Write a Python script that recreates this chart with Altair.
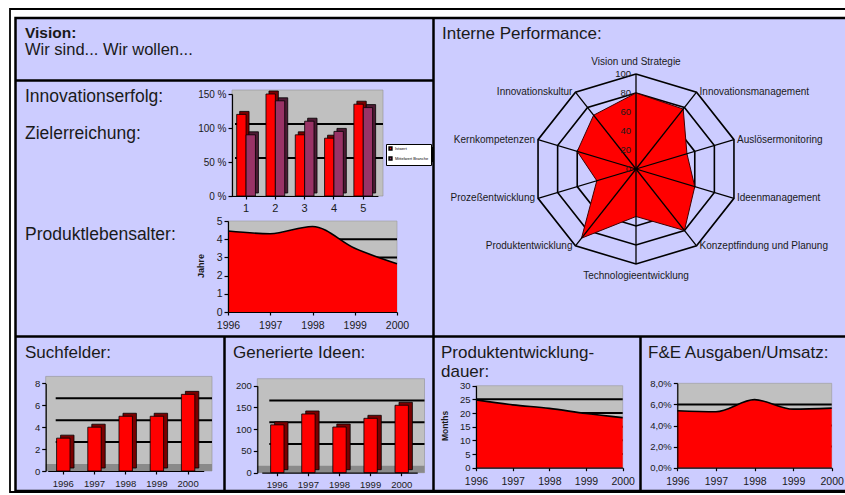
import altair as alt
import pandas as pd

W, H = 845, 495
FONT = "Liberation Sans"
LAV = "#ccccff"
GREY = "#c0c0c0"
FLOOR = "#8a8a8a"
RED = "#ff0000"
DARKRED = "#7a0000"
PURPLE = "#993366"
DARKPURPLE = "#4d1a33"
INK = "#1a1a1a"

# ---------------- data ----------------
ZIEL_GROUPS = ["1", "2", "3", "4", "5"]
ZIEL_SERIES = ["Istwert", "Mittelwert Branche"]
ZIEL_IST = [120, 150, 90, 85, 135]
ZIEL_MITTEL = [90, 140, 110, 95, 130]
ZIEL_TICKS = [0, 50, 100, 150]

YEARS = [1996, 1997, 1998, 1999, 2000]
YEAR_LABELS = ["1996", "1997", "1998", "1999", "2000"]
LEBENSALTER = [4.45, 4.3, 4.7, 3.5, 2.65]
LEBENSALTER_TICKS = [0, 1, 2, 3, 4, 5]

RADAR_CATS = ["Vision und Strategie", "Innovationsmanagement", "Auslösermonitoring",
              "Ideenmanagement", "Konzeptfindung und Planung", "Technologieentwicklung",
              "Produktentwicklung", "Prozeßentwicklung", "Kernkompetenzen", "Innovationskultur"]
RADAR_VALS = [80, 78, 52, 60, 80, 50, 90, 40, 60, 70]
RADAR_TICKS = [0, 20, 40, 60, 80, 100]

SUCHFELDER = [3, 4, 5, 5, 7]
SUCH_TICKS = [0, 2, 4, 6, 8]
IDEEN = [110, 135, 105, 125, 155]
IDEEN_TICKS = [0, 50, 100, 150, 200]
DAUER = [24.8, 23.0, 21.7, 19.8, 18.3]
DAUER_TICKS = [0, 5, 10, 15, 20, 25, 30]
FE_QUOTE = [5.4, 5.3, 6.45, 5.55, 5.65]
FE_TICKS = [0, 2, 4, 6, 8]

DUMMY = pd.DataFrame({"d": [0]})


def qscale(domain, rng):
    return alt.Scale(domain=list(domain), range=list(rng), nice=False, zero=False)


def txt(s, x, y, size=17, weight="normal", align="left", angle=0, base="alphabetic", color=INK):
    return alt.Chart(DUMMY).mark_text(align=align, baseline=base, fontSize=size, fontWeight=weight,
                                      angle=angle, font=FONT, color=color).encode(
        x=alt.value(x), y=alt.value(y), text=alt.value(s))


def box(x, y, x2, y2, fill=None, stroke=None, sw=0):
    kw = {}
    if fill:
        kw["fill"] = fill
    else:
        kw["filled"] = False
    if stroke:
        kw.update(stroke=stroke, strokeWidth=sw)
    return alt.Chart(DUMMY).mark_rect(**kw).encode(
        x=alt.value(x), x2=alt.value(x2), y=alt.value(y), y2=alt.value(y2))


def seg(x, y, x2, y2, w=2.5):
    return alt.Chart(DUMMY).mark_rule(color="black", strokeWidth=w).encode(
        x=alt.value(x), x2=alt.value(x2), y=alt.value(y), y2=alt.value(y2))


def left_axis(x, values, expr=None, size=10):
    kw = dict(orient="left", offset=-x, values=values, title=None, labelFontSize=size,
              tickSize=4, labelPadding=2, labelOverlap=False, labelFlush=False, zindex=2)
    if expr:
        kw["labelExpr"] = expr
    return alt.Axis(**kw)


def bottom_axis(y, size=10, values=None, fmt=None, pad=3):
    kw = dict(orient="bottom", offset=y - H, title=None, labelFontSize=size, tickSize=3,
              labelPadding=pad, labelOverlap=False, labelFlush=False, labelAngle=0, zindex=2)
    if values is not None:
        kw["values"] = values
    if fmt:
        kw["format"] = fmt
    return alt.Axis(**kw)


# ---------------- area panels ----------------
def area_panel(values, xr, yr, ydom, ticks, grid_vals, expr=None, lsize=10, xsize=10.5, xpad=6):
    xs = qscale([1996, 2000], xr)
    ys = qscale(ydom, yr)
    bg = alt.Chart(pd.DataFrame({"x0": [1996], "x1": [2000], "y0": [ydom[0]], "y1": [ydom[1]]})).mark_rect(
        fill=GREY, stroke="#9a9a9a", strokeWidth=0.6).encode(
        x=alt.X("x0:Q", scale=xs, axis=None), x2="x1:Q",
        y=alt.Y("y0:Q", scale=ys, axis=None), y2="y1:Q")
    grid = alt.Chart(pd.DataFrame({"v": grid_vals, "x0": 1996, "x1": 2000})).mark_rule(
        color="black", strokeWidth=2).encode(
        x=alt.X("x0:Q", scale=xs, axis=None), x2="x1:Q",
        y=alt.Y("v:Q", scale=ys, axis=None))
    df = pd.DataFrame({"Jahr": YEARS, "Wert": values, "Basis": 0})
    area = alt.Chart(df).mark_area(color=RED, interpolate="monotone", opacity=1,
                                   line={"color": "black", "strokeWidth": 1.6}).encode(
        x=alt.X("Jahr:Q", scale=xs,
                axis=bottom_axis(yr[0], size=xsize, values=YEARS, fmt="d", pad=xpad)),
        y=alt.Y("Wert:Q", scale=ys, axis=left_axis(xr[0], ticks, expr, size=lsize)),
        y2="Basis:Q")
    return [bg, grid, area]


# ---------------- 3D bar panels ----------------
def bar_panel(values, ticks, axis_x, wall_right, yr, ydom, grid_vals, xr, pad,
              depth=(4, -3), gshift=(10, -7), lsize=9.5):
    dx, dy = depth
    gdx, gdy = gshift
    df = pd.DataFrame({"Jahr": YEAR_LABELS, "Wert": values, "Basis": 0})
    xs = alt.Scale(domain=YEAR_LABELS, range=list(xr), paddingInner=pad, paddingOuter=pad / 2)
    xs_d = alt.Scale(domain=YEAR_LABELS, range=[xr[0] + dx, xr[1] + dx], paddingInner=pad, paddingOuter=pad / 2)
    ys = qscale(ydom, yr)
    ys_d = qscale(ydom, [yr[0] + dy, yr[1] + dy])
    ys_g = qscale(ydom, [yr[0] + gdy, yr[1] + gdy])
    top = yr[1] + gdy
    bottom = yr[0]
    wall = box(axis_x, top, wall_right, bottom, GREY, "#909090", 0.6)
    floor = box(axis_x, bottom + gdy, wall_right, bottom, FLOOR)
    grid = alt.Chart(pd.DataFrame({"v": grid_vals})).mark_rule(color="black", strokeWidth=2).encode(
        x=alt.value(axis_x + gdx), x2=alt.value(wall_right), y=alt.Y("v:Q", scale=ys_g, axis=None))
    back = alt.Chart(df).mark_bar(color=DARKRED, stroke="black", strokeWidth=0.8).encode(
        x=alt.X("Jahr:N", scale=xs_d, axis=None),
        y=alt.Y("Wert:Q", scale=ys_d, axis=None), y2="Basis:Q")
    front = alt.Chart(df).mark_bar(color=RED, stroke="black", strokeWidth=0.8).encode(
        x=alt.X("Jahr:N", scale=xs, axis=bottom_axis(yr[0], size=lsize, pad=4)),
        y=alt.Y("Wert:Q", scale=ys, axis=left_axis(axis_x, ticks, size=lsize)), y2="Basis:Q")
    return [wall, floor, grid, back, front]


def ziel_panel():
    axis_x, wall_right = 232, 383
    yr = [196, 94]
    xr = [231.4, 377.9]
    pad = 0.36
    dx, dy = 3, -3
    gdx, gdy = 3, -4
    df = pd.DataFrame({
        "Gruppe": ZIEL_GROUPS * 2,
        "Serie": [ZIEL_SERIES[0]] * 5 + [ZIEL_SERIES[1]] * 5,
        "Wert": ZIEL_IST + ZIEL_MITTEL,
        "Basis": 0,
    })
    xs = alt.Scale(domain=ZIEL_GROUPS, range=xr, paddingInner=pad, paddingOuter=pad / 2)
    xs_d = alt.Scale(domain=ZIEL_GROUPS, range=[xr[0] + dx, xr[1] + dx], paddingInner=pad, paddingOuter=pad / 2)
    ys = qscale([0, 150], yr)
    ys_d = qscale([0, 150], [yr[0] + dy, yr[1] + dy])
    ys_g = qscale([0, 150], [yr[0] + gdy, yr[1] + gdy])
    wall = box(axis_x, yr[1] + gdy, wall_right, yr[0], GREY, "#909090", 0.6)
    grid = alt.Chart(pd.DataFrame({"v": [50, 100]})).mark_rule(color="black", strokeWidth=2).encode(
        x=alt.value(axis_x + gdx), x2=alt.value(wall_right), y=alt.Y("v:Q", scale=ys_g, axis=None))
    off = alt.XOffset("Serie:N", scale=alt.Scale(domain=ZIEL_SERIES, paddingInner=0, paddingOuter=0))
    back = alt.Chart(df).mark_bar(stroke="black", strokeWidth=0.8).encode(
        x=alt.X("Gruppe:N", scale=xs_d, axis=None), xOffset=off,
        y=alt.Y("Wert:Q", scale=ys_d, axis=None), y2="Basis:Q",
        color=alt.Color("Serie:N", scale=alt.Scale(domain=ZIEL_SERIES, range=[DARKRED, DARKPURPLE]), legend=None))
    front = alt.Chart(df).mark_bar(stroke="black", strokeWidth=0.8).encode(
        x=alt.X("Gruppe:N", scale=xs, axis=bottom_axis(yr[0], size=11)), xOffset=off,
        y=alt.Y("Wert:Q", scale=ys, axis=left_axis(axis_x, ZIEL_TICKS, "datum.value + ' %'", size=10)),
        y2="Basis:Q",
        color=alt.Color("Serie:N", scale=alt.Scale(domain=ZIEL_SERIES, range=[RED, PURPLE]),
                        legend=alt.Legend(orient="none", legendX=386, legendY=144, title=None,
                                          labelFontSize=4, labelFont=FONT, symbolType="square",
                                          symbolSize=8, fillColor="white", strokeColor="black",
                                          padding=2, rowPadding=1, labelOffset=2, labelLimit=40)))
    shadow = box(389, 147, 434, 162, "black")
    return [wall, grid, back, front, shadow]


# ---------------- radar ----------------
def radar_panel():
    xs = qscale([-100, 100], [533, 739])
    ys = qscale([-100, 100], [264, 74])
    n = len(RADAR_CATS)
    ang = f"datum.i * 2 * PI / {n}"
    rings = pd.DataFrame([{"level": lv, "i": i} for lv in RADAR_TICKS[1:] for i in range(n + 1)])
    ring = alt.Chart(rings).transform_calculate(
        px=f"datum.level * sin({ang})", py=f"datum.level * cos({ang})").mark_line(
        color="black", strokeWidth=1.6).encode(
        x=alt.X("px:Q", scale=xs, axis=None), y=alt.Y("py:Q", scale=ys, axis=None),
        detail="level:N", order="i:Q")
    poly_df = pd.DataFrame({"i": list(range(n + 1)), "v": RADAR_VALS + RADAR_VALS[:1]})
    poly = alt.Chart(poly_df).transform_calculate(
        px=f"datum.v * sin({ang})", py=f"datum.v * cos({ang})").mark_line(
        fill=RED, stroke="#400000", strokeWidth=1).encode(
        x=alt.X("px:Q", scale=xs, axis=None), y=alt.Y("py:Q", scale=ys, axis=None), order="i:Q")
    cat_df = pd.DataFrame({"i": list(range(n)), "cat": RADAR_CATS})
    base = alt.Chart(cat_df).transform_calculate(
        zx="0", zy="0", ex=f"100 * sin({ang})", ey=f"100 * cos({ang})", s=f"sin({ang})")
    spokes = base.mark_rule(color="black", strokeWidth=1.3).encode(
        x=alt.X("zx:Q", scale=xs, axis=None), y=alt.Y("zy:Q", scale=ys, axis=None),
        x2="ex:Q", y2="ey:Q")
    lab_kw = dict(font=FONT, fontSize=10, color=INK, baseline="middle")
    enc = dict(x=alt.X("ex:Q", scale=xs, axis=None), y=alt.Y("ey:Q", scale=ys, axis=None), text="cat:N")
    right = base.transform_filter("datum.s > 0.1").mark_text(align="left", dx=3, **lab_kw).encode(**enc)
    left = base.transform_filter("datum.s < -0.1").mark_text(align="right", dx=-3, **lab_kw).encode(**enc)
    top = base.transform_filter("datum.i == 0").mark_text(align="center", dy=-12, **lab_kw).encode(**enc)
    bottom = base.transform_filter(f"datum.i == {n // 2}").mark_text(align="center", dy=12, **lab_kw).encode(**enc)
    tick_df = pd.DataFrame({"t": RADAR_TICKS, "z": 0})
    ticks = alt.Chart(tick_df).mark_text(align="right", dx=-5, baseline="middle", font=FONT,
                                         fontSize=9.5, color=INK).encode(
        x=alt.X("z:Q", scale=xs, axis=None), y=alt.Y("t:Q", scale=ys, axis=None), text="t:Q")
    return [ring, poly, spokes, ticks, right, left, top, bottom]


layers = []
# frame
layers.append(box(10, 9, 900, 492, None, "black", 1.8))
layers.append(box(15.5, 18, 900, 491, LAV, "black", 2.5))
layers += [
    seg(15.5, 80.5, 433.5, 80.5),
    seg(433.5, 18, 433.5, 337),
    seg(15.5, 336.5, 900, 336.5),
    seg(224.5, 336.5, 224.5, 491),
    seg(433.5, 336.5, 433.5, 491),
    seg(640.5, 336.5, 640.5, 491),
]

layers += ziel_panel()
layers += area_panel(LEBENSALTER, [228, 397], [312, 221], [0, 5], LEBENSALTER_TICKS, [1, 2, 3, 4],
                     lsize=10.5, xsize=10.5, xpad=5)
layers += radar_panel()
layers += bar_panel(SUCHFELDER, SUCH_TICKS, 45.7, 212, [471, 383.4], [0, 8], [2, 4, 6],
                    [47.7, 203.7], 0.57, depth=(4, -3), gshift=(10, -7))
layers += bar_panel(IDEEN, IDEEN_TICKS, 257.3, 424.5, [472.7, 385.7], [0, 200], [50, 100, 150],
                    [261.75, 417.25], 0.57, depth=(4, -3), gshift=(12, -7))
layers += area_panel(DAUER, [476, 622.7], [467.7, 385.7], [0, 30], DAUER_TICKS, [5, 10, 15, 20, 25],
                     lsize=9.5, xsize=10.5, xpad=6)
layers += area_panel(FE_QUOTE, [677.3, 831.7], [467.7, 383.3], [0, 8], FE_TICKS, [2, 4, 6],
                     expr="replace(format(datum.value, '.1f'), '.', ',') + '%'", lsize=9.5,
                     xsize=10.5, xpad=6)

# texts
layers += [
    txt("Vision:", 25, 38, size=15.5, weight="bold"),
    txt("Wir sind... Wir wollen...", 25, 55, size=16.5),
    txt("Interne Performance:", 442, 39, size=17),
    txt("Innovationserfolg:", 25, 102, size=17.5),
    txt("Zielerreichung:", 25, 139, size=17.5),
    txt("Produktlebensalter:", 25, 240, size=17.5),
    txt("Jahre", 201, 266, size=9, weight="bold", align="center", angle=270, base="middle"),
    txt("Suchfelder:", 25, 358, size=17),
    txt("Generierte Ideen:", 233, 358, size=17),
    txt("Produktentwicklung-", 441, 358, size=17),
    txt("dauer:", 441, 377, size=17),
    txt("F&E Ausgaben/Umsatz:", 648, 358, size=17),
    txt("Months", 445, 426, size=8.5, weight="bold", align="center", angle=270, base="middle"),
]

chart = alt.layer(*layers).resolve_scale(
    x="independent", y="independent", color="independent"
).properties(
    width=W, height=H, padding=0, autosize=alt.AutoSizeParams(type="none"), background="white"
).configure_view(stroke=None).configure_axis(
    labelFont=FONT, labelColor=INK, domainColor="black", tickColor="black", grid=False,
    domainWidth=1.2, tickWidth=1.2
)

chart.save("out.html", embed_options={"renderer": "svg", "actions": False})
